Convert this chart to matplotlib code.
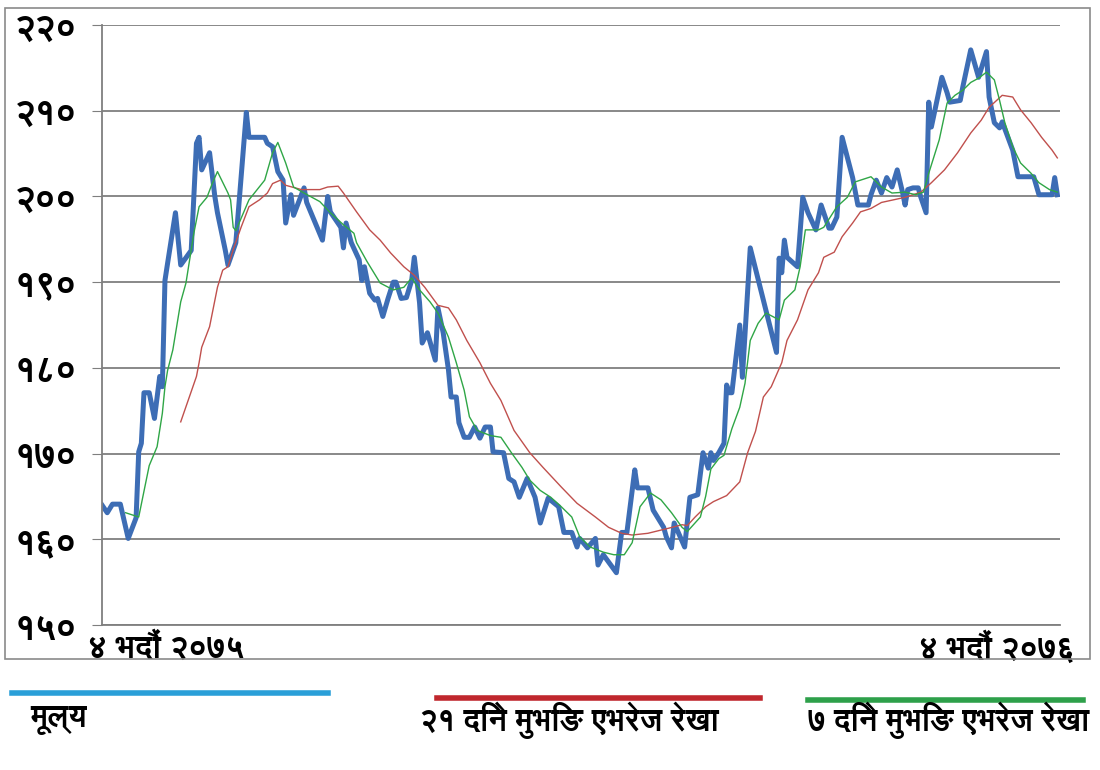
import matplotlib
matplotlib.use("Agg")
import matplotlib.pyplot as plt
from matplotlib import font_manager
from matplotlib.lines import Line2D
from matplotlib.patches import Rectangle

# look for any installed font that can draw Devanagari
deva = None
for f in font_manager.fontManager.ttflist:
    if "Devanagari" in f.name or f.name in ("Lohit Devanagari", "Mukta", "FreeSans",
                                              "Kalimati", "Gargi", "Mangal", "Nirmala UI"):
        deva = f.name
        break
families = ([deva] if deva else []) + ["DejaVu Sans"]
plt.rcParams["font.family"] = families

# price (calendar day from 4 Bhadra 2075, value)
price_days = [0, 2, 4, 7, 10, 13, 14, 15, 16, 18, 20, 22, 23, 24, 25, 28, 30, 34, 36, 37,
              38, 41, 43, 44, 47, 48, 51, 55, 56, 62, 63, 65, 67, 69, 70, 72, 73, 77, 78, 84,
              86, 87, 91, 92, 93, 95, 98, 99, 100, 102, 104, 105, 107, 109, 111, 112, 114, 116, 118, 119,
              121, 122, 124, 127, 128, 130, 132, 133, 135, 136, 138, 140, 142, 144, 146, 148, 149, 153, 155, 157,
              159, 162, 165, 167, 170, 174, 176, 179, 181, 182, 185, 188, 189, 191, 196, 198, 200, 203, 204, 208,
              210, 214, 215, 217, 218, 222, 224, 227, 229, 231, 232, 233, 235, 237, 238, 239, 240, 243, 244, 247,
              257, 258, 259, 260, 261, 265, 267, 269, 272, 274, 277, 278, 280, 282, 286, 288, 292, 293, 295, 297,
              299, 301, 303, 305, 306, 307, 309, 311, 312, 314, 315, 316, 318, 320, 322, 323, 327, 328, 331, 334,
              337, 338, 340, 342, 343, 347, 349, 355, 357, 362, 363, 364]
price_vals = [164.0, 163.1, 164.1, 164.1, 160.1, 162.5, 170.2, 171.2, 177.1, 177.1, 174.1, 179.0, 177.8, 190.2, 192.2, 198.1, 192.0, 193.7, 206.2, 206.9,
              203.1, 205.1, 200.0, 198.1, 193.7, 192.0, 194.6, 209.8, 206.9, 206.9, 206.2, 205.8, 202.9, 201.9, 196.9, 200.2, 197.8, 201.0, 199.3, 194.9,
              200.0, 198.2, 196.4, 194.0, 196.9, 194.6, 192.6, 190.2, 191.8, 188.7, 187.9, 188.1, 186.0, 188.1, 190.0, 190.0, 188.1, 188.2, 190.2, 192.9,
              187.6, 182.9, 184.1, 180.9, 187.0, 184.1, 179.8, 176.6, 176.6, 173.6, 171.9, 171.9, 173.1, 171.8, 173.1, 173.1, 170.2, 170.1, 167.1, 166.7,
              164.9, 167.1, 164.9, 161.9, 164.8, 163.8, 160.8, 160.8, 159.1, 160.1, 159.0, 160.1, 157.0, 158.2, 156.1, 160.8, 160.8, 168.1, 166.0, 166.0,
              163.4, 161.4, 160.3, 159.0, 161.9, 159.1, 164.9, 165.2, 170.1, 168.3, 170.1, 169.2, 170.1, 171.2, 178.0, 177.1, 177.1, 185.0, 178.9, 194.0,
              181.8, 192.8, 191.1, 194.9, 192.9, 191.8, 199.9, 198.1, 196.1, 199.0, 196.3, 196.3, 197.6, 206.9, 202.2, 199.0, 199.0, 200.2, 201.9, 200.4,
              202.2, 201.1, 203.1, 200.5, 199.0, 200.8, 201.0, 201.0, 199.9, 198.1, 211.0, 208.1, 211.0, 213.9, 212.1, 211.0, 211.2, 212.8, 217.1, 213.9,
              216.9, 211.6, 208.6, 208.0, 208.7, 205.4, 202.3, 202.3, 200.2, 200.2, 202.2, 200.2]

# 21 day moving average
ma21_days = [30, 36, 37, 38, 41, 44, 46, 48, 50, 53, 56, 60, 63, 65, 68, 70, 76, 79, 83, 86,
             90, 92, 97, 102, 106, 110, 115, 119, 123, 128, 132, 135, 139, 144, 148, 152, 157, 163, 168, 175,
             181, 188, 193, 198, 202, 208, 216, 221, 223, 226, 230, 233, 238, 243, 246, 249, 252, 255, 259, 261,
             265, 269, 273, 275, 279, 282, 286, 289, 293, 297, 300, 306, 312, 316, 321, 326, 331, 335, 338, 343,
             347, 350, 354, 358, 362, 364]
ma21_vals = [173.7, 179.0, 180.6, 182.4, 184.8, 189.4, 191.4, 191.8, 193.8, 196.4, 198.8, 199.6, 200.4, 201.5, 201.9, 201.3, 200.8, 200.8, 200.8, 201.1,
             201.2, 200.4, 198.2, 196.1, 194.9, 193.4, 191.8, 190.8, 189.4, 187.3, 187.0, 185.6, 183.2, 180.6, 178.2, 176.2, 172.7, 170.1, 168.4, 166.1,
             164.2, 162.6, 161.4, 160.7, 160.5, 160.7, 161.3, 161.7, 161.6, 162.6, 163.8, 164.4, 165.1, 166.7, 170.1, 172.6, 176.6, 177.8, 180.6, 183.2,
             185.6, 189.1, 191.1, 192.9, 193.5, 195.3, 196.9, 198.2, 198.6, 199.3, 199.5, 199.9, 200.5, 201.6, 203.1, 205.1, 207.4, 208.9, 210.4, 211.8,
             211.6, 210.1, 208.6, 206.9, 205.4, 204.5]

# 7 day moving average
ma7_days = [9, 14, 18, 21, 23, 24, 25, 27, 30, 32, 35, 37, 40, 42, 44, 48, 49, 50, 51, 56,
            62, 65, 67, 70, 73, 77, 83, 87, 92, 96, 97, 101, 106, 111, 115, 118, 121, 125, 128, 132,
            135, 138, 140, 143, 148, 152, 156, 160, 163, 167, 171, 175, 179, 182, 186, 191, 195, 199, 202, 205,
            209, 213, 217, 221, 223, 228, 230, 232, 235, 237, 240, 243, 245, 247, 250, 253, 258, 260, 264, 266,
            268, 273, 275, 280, 284, 287, 293, 297, 301, 306, 310, 313, 315, 319, 322, 325, 328, 331, 334, 337,
            340, 342, 344, 347, 350, 354, 357, 361, 364]
ma7_vals = [163.1, 162.6, 168.6, 170.8, 174.7, 177.8, 179.7, 182.1, 187.7, 189.9, 195.7, 198.8, 199.9, 201.5, 202.9, 200.4, 199.6, 196.4, 196.0, 199.6,
            201.9, 205.1, 206.3, 203.9, 201.1, 200.4, 199.4, 198.1, 196.7, 195.7, 194.6, 192.4, 189.9, 189.1, 189.4, 190.5, 189.1, 187.7, 186.4, 183.6,
            180.6, 177.4, 174.3, 172.7, 172.1, 171.9, 170.1, 168.4, 166.9, 165.7, 164.9, 163.8, 162.6, 160.3, 159.1, 158.5, 158.2, 158.2, 159.6, 163.8,
            165.4, 164.6, 163.1, 161.4, 160.9, 162.6, 165.0, 168.2, 169.4, 169.8, 172.9, 175.4, 178.2, 183.2, 185.2, 186.4, 185.6, 187.9, 189.1, 191.8,
            196.1, 196.1, 196.4, 198.8, 199.9, 201.7, 202.3, 201.1, 200.4, 200.5, 200.2, 200.5, 202.7, 206.6, 210.9, 211.8, 212.4, 213.3, 213.8, 214.5,
            213.6, 211.2, 208.6, 205.8, 203.9, 202.7, 201.6, 200.8, 200.5]

y_ticks = [150, 160, 170, 180, 190, 200, 210, 220]
y_labels = ["१५०", "१६०", "१७०", "१८०", "१९०", "२००", "२१०", "२२०"]
x_start_label = "४ भदौं २०७५"
x_end_label = "४ भदौं २०७६"
legend_labels = ["मूल्य", "२१ दिने मुभिङ एभरेज रेखा", "७ दिने मुभिङ एभरेज रेखा"]

fig = plt.figure(figsize=(11, 7.7), dpi=100)
fig.patches.append(Rectangle((0.0045, 0.1442), 0.9864, 0.8455, transform=fig.transFigure,
                             fill=False, edgecolor="#8a8a8a", linewidth=1.2))

ax = fig.add_axes([0.0927, 0.1883, 0.8709, 0.7792])
ax.plot(price_days, price_vals, color="#3d6db5", linewidth=3.6, solid_joinstyle="round")
ax.plot(ma21_days, ma21_vals, color="#c0504d", linewidth=1.0)
ax.plot(ma7_days, ma7_vals, color="#2fa646", linewidth=1.0)

ax.set_xlim(0, 365)
ax.set_ylim(150, 220)
ax.set_yticks(y_ticks)
ax.set_yticklabels(y_labels, fontsize=26, fontweight="bold")
ax.set_xticks([])
ax.yaxis.grid(True, color="#7f7f7f", linewidth=1.3)
ax.set_axisbelow(True)
for s in ["top", "right"]:
    ax.spines[s].set_visible(False)
ax.spines["left"].set_color("#7f7f7f")
ax.spines["bottom"].set_color("#7f7f7f")
ax.spines["left"].set_linewidth(1.3)
ax.spines["bottom"].set_linewidth(1.3)
ax.tick_params(axis="y", direction="out", length=7, color="#7f7f7f", pad=11)

ax.text(-0.0146, -0.038, x_start_label, transform=ax.transAxes, ha="left", va="center",
        fontsize=23, fontweight="bold")
ax.text(1.0157, -0.038, x_end_label, transform=ax.transAxes, ha="right", va="center",
        fontsize=23, fontweight="bold")

# legend drawn below the frame
W, H = 1100, 770
leg = [((12, 328), 693, "#2a9fd8", 30), ((437, 760), 698, "#c0272d", 420), ((808, 1083), 700, "#2ea04a", 808)]
for (x0, x1), y, c, tx in leg:
    fig.add_artist(Line2D([x0 / W, x1 / W], [1 - y / H, 1 - y / H], color=c, linewidth=4,
                          transform=fig.transFigure))
for ((x0, x1), y, c, tx), lab in zip(leg, legend_labels):
    fig.text(tx / W, 1 - 720 / H, lab, ha="left", va="center", fontsize=22, fontweight="bold")

fig.savefig("out.png", dpi=100)
